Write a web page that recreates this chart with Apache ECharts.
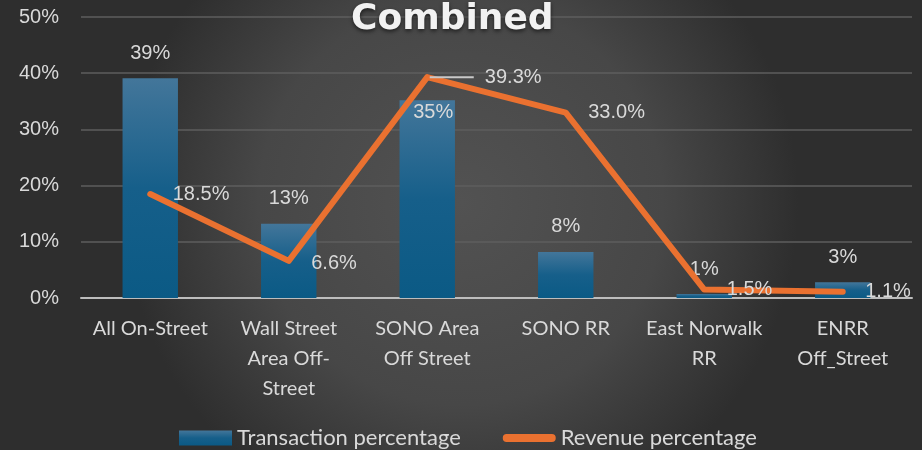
<!DOCTYPE html>
<html lang="en">
<head>
    <meta charset="UTF-8">
    <title>Combined</title>
    <script src="https://cdn.jsdelivr.net/npm/echarts@6/dist/echarts.min.js"></script>
    <style>
        html, body { margin: 0; padding: 0; }
        #main { width: 922px; height: 450px; }
    </style>
</head>
<body>
<div id="main"></div>
<script type="text/javascript">
    // data (percent)
    var categories = ['All On-Street', 'Wall Street\nArea Off-\nStreet', 'SONO Area\nOff Street', 'SONO RR', 'East Norwalk\nRR', 'ENRR\nOff_Street'];
    var transactionPct = [39.1, 13.2, 35.2, 8.2, 0.7, 2.8];
    var revenuePct = [18.5, 6.6, 39.3, 33.0, 1.5, 1.1];
    var yTicks = [0, 10, 20, 30, 40, 50];

    var myChart = echarts.init(document.getElementById('main'));

    var labelColor = '#d9d9d9';

    // bar data: the 35% label sits inside the bar
    var barData = transactionPct.map(function (v, i) {
        if (i === 2) {
            return { value: v, label: { position: 'insideTop', distance: 2, offset: [6, 0] } };
        }
        return v;
    });

    option = {
        backgroundColor: {
            type: 'radial', x: 0.5, y: 0.45, r: 0.75,
            colorStops: [
                { offset: 0, color: '#525252' },
                { offset: 0.6, color: '#474747' },
                { offset: 1, color: '#2e2e2e' }
            ]
        },
        title: {
            text: 'Combined',
            left: 346,
            top: -3,
            textStyle: {
                color: '#f2f2f2',
                fontSize: 36,
                fontWeight: 'bold',
                fontFamily: 'DejaVu Sans',
                textShadowColor: 'rgba(0,0,0,0.6)',
                textShadowBlur: 4,
                textShadowOffsetY: 2
            }
        },
        legend: {
            top: 422,
            left: 174,
            itemGap: 42,
            itemWidth: 53,
            itemHeight: 15,
            textStyle: { color: labelColor, fontSize: 22, fontFamily: 'Lato', padding: [0, 0, 0, 0] },
            data: [
                { name: 'Transaction percentage', icon: 'rect' },
                {
                    name: 'Revenue percentage',
                    icon: 'path://M4,0 L50,0 A4,4 0 0 1 50,8 L4,8 A4,4 0 0 1 4,0 Z',
                    itemStyle: { color: '#ea7130' }
                }
            ]
        },
        grid: { left: 81, right: 10, top: 17, bottom: 152 },
        xAxis: {
            type: 'category',
            data: categories,
            axisTick: { show: false },
            axisLine: { lineStyle: { color: '#bdbdbd', width: 2 } },
            axisLabel: {
                interval: 0,
                color: labelColor,
                fontSize: 20,
                fontFamily: 'Lato',
                lineHeight: 30,
                margin: 16
            }
        },
        yAxis: {
            type: 'value',
            min: yTicks[0],
            max: yTicks[yTicks.length - 1],
            interval: 10,
            axisLine: { show: false },
            axisTick: { show: false },
            splitLine: { lineStyle: { color: '#5e5e5e', width: 1.5 } },
            axisLabel: {
                color: labelColor,
                fontSize: 20,
                fontFamily: 'Liberation Sans',
                margin: 22,
                formatter: function (v) { return v + '%'; }
            }
        },
        series: [
            {
                name: 'Transaction percentage',
                type: 'bar',
                barWidth: '40%',
                data: barData,
                itemStyle: {
                    color: {
                        type: 'linear', x: 0, y: 0, x2: 0, y2: 1,
                        colorStops: [
                            { offset: 0, color: '#43769a' },
                            { offset: 0.5, color: '#165f8a' },
                            { offset: 1, color: '#0b5a85' }
                        ]
                    }
                },
                label: {
                    show: true,
                    position: 'top',
                    distance: 15,
                    color: labelColor,
                    fontSize: 20,
                    fontFamily: 'Liberation Sans',
                    formatter: function (p) { return Math.round(p.value) + '%'; }
                }
            },
            {
                name: 'Revenue percentage',
                type: 'line',
                data: revenuePct,
                symbol: 'circle',
                symbolSize: 1,
                showSymbol: true,
                lineStyle: { color: '#ea7130', width: 6, cap: 'round', join: 'round' },
                itemStyle: { color: '#ea7130' },
                label: {
                    show: true,
                    position: 'right',
                    distance: 22,
                    color: labelColor,
                    fontSize: 20,
                    fontFamily: 'Liberation Sans',
                    formatter: function (p) {
                        var t = p.value.toFixed(1) + '%';
                        return p.dataIndex === 2 ? '{ln|}  ' + t : t;
                    },
                    rich: {
                        ln: { width: 44, height: 2, backgroundColor: '#c8c8c8' }
                    }
                },
                labelLayout: function (params) {
                    if (params.dataIndex === 2) { return { dx: -20 }; }
                    if (params.dataIndex === 1) { return { dy: 3 }; }
                    return {};
                },
                z: 3
            }
        ]
    };

    myChart.setOption(option);
</script>
</body>
</html>
